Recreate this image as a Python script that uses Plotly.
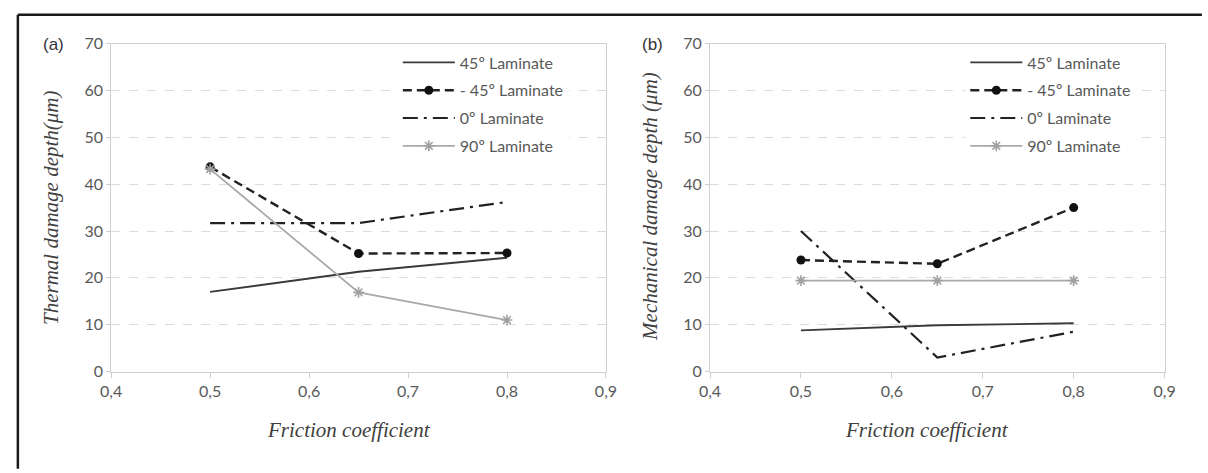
import plotly.graph_objects as go

W, H = 1208, 473

friction = [0.5, 0.65, 0.8]
series_names = ["45º Laminate", "- 45º Laminate", "0º Laminate", "90º Laminate"]

thermal_45 = [17.0, 21.3, 24.3]
thermal_m45 = [43.7, 25.2, 25.3]
thermal_0 = [31.7, 31.7, 36.2]
thermal_90 = [43.2, 16.9, 11.0]

mech_45 = [8.8, 9.9, 10.3]
mech_m45 = [23.8, 23.0, 35.0]
mech_0 = [30.0, 3.0, 8.5]
mech_90 = [19.4, 19.4, 19.4]

x_ticks = [0.4, 0.5, 0.6, 0.7, 0.8, 0.9]
y_ticks = [0, 10, 20, 30, 40, 50, 60, 70]


def px_x(p):
    return p / W


def px_y(p):
    return 1 - p / H


styles = [
    dict(mode="lines", line=dict(color="#3a3a3a", width=1.9)),
    dict(mode="lines+markers", line=dict(color="#222222", width=2.4, dash="9px,5px"),
         marker=dict(symbol="circle", size=9, color="#111111")),
    dict(mode="lines", line=dict(color="#222222", width=2.2, dash="15px,6px,3px,6px")),
    dict(mode="lines+markers", line=dict(color="#a9a9a9", width=1.8),
         marker=dict(symbol="asterisk-open", size=9, color="#a0a0a0",
                     line=dict(color="#a0a0a0", width=1.6))),
]

fig = go.Figure()

panels = [
    ([thermal_45, thermal_m45, thermal_0, thermal_90], "x", "y", "legend"),
    ([mech_45, mech_m45, mech_0, mech_90], "x2", "y2", "legend2"),
]

for vals, xa, ya, lg in panels:
    for i, (name, v) in enumerate(zip(series_names, vals)):
        fig.add_trace(go.Scatter(x=friction, y=v, name=name, xaxis=xa, yaxis=ya,
                                 legend=lg, legendgroup=f"{lg}{i}", **styles[i]))

base_family = "Lato, 'Open Sans', sans-serif"
tick_font = dict(family=base_family, size=16, color="#595959")
grid = dict(showgrid=True, gridcolor="#dcdcdc", griddash="dash", gridwidth=1)

common_x = dict(range=[0.4, 0.9], tickvals=x_ticks, tickformat=".1f", ticks="outside",
                ticklen=5, tickcolor="#cfcfcf", showline=True, linecolor="#cfcfcf",
                linewidth=1, mirror=True, showgrid=False, zeroline=False,
                tickfont=tick_font)
common_y = dict(range=[0, 70], tickvals=y_ticks, ticks="outside", ticklen=4,
                tickcolor="#cfcfcf", showline=True, linecolor="#cfcfcf", linewidth=1,
                mirror=True, zeroline=False, tickfont=tick_font, **grid)

y_dom = [px_y(376.7), px_y(35)]

legend_font = dict(family=base_family, size=16, color="#595959")

fig.update_layout(
    width=W, height=H,
    margin=dict(l=0, r=0, t=0, b=0),
    paper_bgcolor="white", plot_bgcolor="white",
    separators=", ",
    xaxis=dict(domain=[px_x(102), px_x(606)], anchor="y", **common_x),
    yaxis=dict(domain=y_dom, anchor="x", **common_y),
    xaxis2=dict(domain=[px_x(712), px_x(1175)], anchor="y2", **common_x),
    yaxis2=dict(domain=y_dom, anchor="x2", **common_y),
    legend=dict(x=px_x(394), y=px_y(37), xanchor="left", yanchor="top",
                bgcolor="white", itemwidth=52, tracegroupgap=4,
                traceorder="grouped", font=legend_font),
    legend2=dict(x=px_x(972), y=px_y(37), xanchor="left", yanchor="top",
                 bgcolor="white", itemwidth=52, tracegroupgap=4,
                 traceorder="grouped", font=legend_font),
    showlegend=True,
)

title_font = dict(family="Liberation Serif, serif", size=21, color="#404040")

annotations = [
    dict(text="<i>Thermal damage depth(μm)</i>", x=px_x(40), y=px_y(206), textangle=-90),
    dict(text="<i>Mechanical damage depth (μm)</i>", x=px_x(651), y=px_y(205), textangle=-90),
    dict(text="<i>Friction coefficient</i>", x=px_x(344), y=px_y(438)),
    dict(text="<i>Friction coefficient</i>", x=px_x(933), y=px_y(438)),
]
for a in annotations:
    fig.add_annotation(xref="paper", yref="paper", showarrow=False,
                       xanchor="center", yanchor="middle", font=title_font, **a)

label_font = dict(family="Liberation Sans, Arial, sans-serif", size=17, color="#333333")
fig.add_annotation(text="(a)", xref="paper", yref="paper", x=px_x(43), y=px_y(36),
                   showarrow=False, xanchor="center", yanchor="middle", font=label_font)
fig.add_annotation(text="(b)", xref="paper", yref="paper", x=px_x(653), y=px_y(36),
                   showarrow=False, xanchor="center", yanchor="middle", font=label_font)

# outer frame (left and top edges visible)
fig.add_shape(type="line", xref="paper", yref="paper", x0=px_x(7), x1=px_x(W + 5),
              y0=px_y(5), y1=px_y(5), line=dict(color="#1a1a1a", width=2.5))
fig.add_shape(type="line", xref="paper", yref="paper", x0=px_x(7), x1=px_x(7),
              y0=px_y(5), y1=px_y(H + 5), line=dict(color="#1a1a1a", width=2.5))

fig.write_html("out.html")
